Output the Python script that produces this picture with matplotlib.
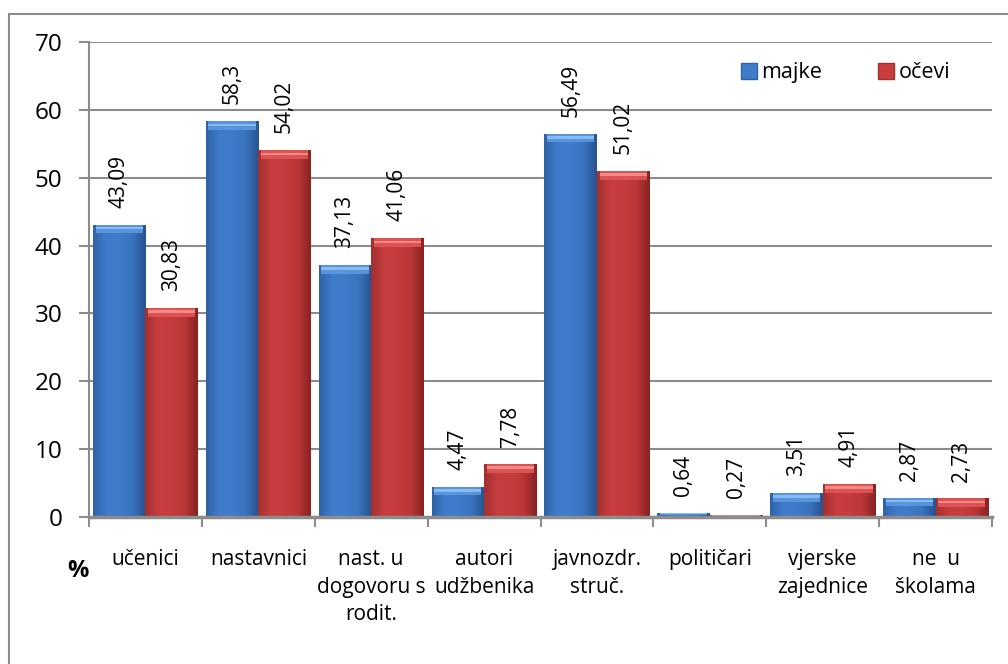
import numpy as np
import matplotlib
matplotlib.use("Agg")
import matplotlib.pyplot as plt
from matplotlib.patches import Rectangle, Patch
from matplotlib.colors import LinearSegmentedColormap

categories = ["učenici", "nastavnici", "nast. u\ndogovoru s\nrodit.", "autori\nudžbenika",
              "javnozdr.\nstruč.", "političari", "vjerske\nzajednice", "ne  u\nškolama"]
majke = [43.09, 58.3, 37.13, 4.47, 56.49, 0.64, 3.51, 2.87]
ocevi = [30.83, 54.02, 41.06, 7.78, 51.02, 0.27, 4.91, 2.73]
labels_m = ["43,09", "58,3", "37,13", "4,47", "56,49", "0,64", "3,51", "2,87"]
labels_o = ["30,83", "54,02", "41,06", "7,78", "51,02", "0,27", "4,91", "2,73"]
yticks = [0, 10, 20, 30, 40, 50, 60, 70]

plt.rcParams['font.family'] = ['Open Sans', 'DejaVu Sans']

fig = plt.figure(figsize=(10.08, 6.64), dpi=100)
W, H = 1008, 664
# outer border (right / bottom edges fall outside the image)
fig.patches.append(Rectangle((9 / W, -20 / H), 1020 / W, (H - 13.5 + 20) / H, transform=fig.transFigure,
                             fill=False, edgecolor="#8c8c8c", linewidth=1.5))
ax = fig.add_axes([89 / W, 1 - 517 / H, 903 / W, 475 / H])

x = np.arange(len(categories))
w = 0.465
blue_cmap = LinearSegmentedColormap.from_list("b", ["#2f62a6", "#3f7ccb", "#3e7bc9", "#3a74bf", "#28538f"])
red_cmap = LinearSegmentedColormap.from_list("r", ["#a33030", "#c83e3e", "#c63c3c", "#bb3737", "#8a2222"])
gx = np.linspace(0, 1, 64)
grad = gx[None, :].repeat(64, axis=0)

def draw(xs, vals, cmap, top_color, top_color2):
    bars = ax.bar(xs, vals, width=w, color="none", edgecolor="none", zorder=3)
    for b in bars:
        x0, y0 = b.get_x(), b.get_y()
        bw, bh = b.get_width(), b.get_height()
        im = ax.imshow(grad, extent=[x0, x0 + bw, y0, y0 + bh], aspect="auto", origin="lower",
                       cmap=cmap, zorder=3, interpolation="bicubic")
        im.set_clip_path(b)
        # bevel top
        th = min(1.3, bh * 0.6)
        ax.add_patch(Rectangle((x0 + bw * 0.05, y0 + bh - th), bw * 0.90, th,
                               facecolor=top_color, edgecolor="none", alpha=0.9, zorder=4))
        ax.add_patch(Rectangle((x0 + bw * 0.05, y0 + bh - th * 0.55), bw * 0.90, th * 0.3,
                               facecolor=top_color2, edgecolor="none", alpha=0.9, zorder=4))
    return bars

draw(x - w / 2, majke, blue_cmap, "#5b98df", "#8ec0f5")
draw(x + w / 2, ocevi, red_cmap, "#e05656", "#f49090")

for xi, v, s in zip(x - w / 2, majke, labels_m):
    ax.text(xi, v + 2.5, s, rotation=90, ha="center", va="bottom", fontsize=15, zorder=5)
for xi, v, s in zip(x + w / 2, ocevi, labels_o):
    ax.text(xi, v + 2.5, s, rotation=90, ha="center", va="bottom", fontsize=15, zorder=5)

ax.set_xlim(-0.5, len(categories) - 0.5)
ax.set_ylim(0, 70)
ax.set_yticks(yticks)
ax.set_yticklabels([str(t) for t in yticks], fontsize=17.5)
ax.yaxis.grid(True, color="#8c8c8c", linewidth=1.5, zorder=0)
ax.set_axisbelow(True)
for s in ["top", "right"]:
    ax.spines[s].set_visible(False)
ax.spines["left"].set_color("#8c8c8c")
ax.spines["left"].set_linewidth(1.5)
ax.spines["bottom"].set_color("#8c8c8c")
ax.spines["bottom"].set_linewidth(2.5)
ax.spines["bottom"].set_zorder(6)
ax.tick_params(axis="y", length=7, color="#8c8c8c", width=1.5, pad=12)
ax.set_xticks(np.arange(len(categories) + 1) - 0.5)
ax.set_xticklabels([])
ax.tick_params(axis="x", length=7, color="#8c8c8c", width=1.5)
for xi, c in zip(x, categories):
    ax.text(xi, -4.7, c, ha="center", va="top", fontsize=15, linespacing=1.42)

fig.text(78 / W, 1 - 571 / H, "%", ha="center", va="center", fontsize=17, fontweight="bold")

handles = [Patch(facecolor="#3f7ccb", edgecolor="#2f62a6"), Patch(facecolor="#c83e3e", edgecolor="#a33030")]
leg = ax.legend(handles, ["majke", "očevi"], loc="center left", bbox_to_anchor=(0.722, 0.935),
                ncol=2, frameon=False, fontsize=15.5, handlelength=0.75, handleheight=0.75,
                handletextpad=0.2, columnspacing=2.6, borderpad=0, borderaxespad=0)

fig.savefig("out.png", dpi=100)
